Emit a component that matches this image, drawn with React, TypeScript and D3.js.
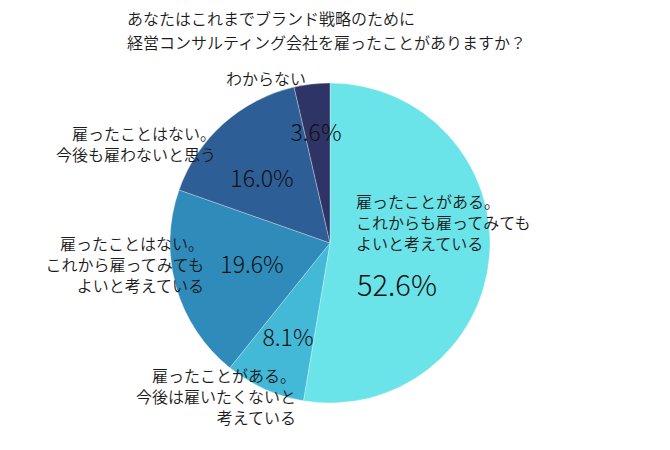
import React from "react";
import * as d3 from "d3";

// survey answers, clockwise from 12 o'clock
const categories = [
  "雇ったことがある。\nこれからも雇ってみても\nよいと考えている",
  "雇ったことがある。\n今後は雇いたくないと\n考えている",
  "雇ったことはない。\nこれから雇ってみても\nよいと考えている",
  "雇ったことはない。\n今後も雇わないと思う",
  "わからない",
];
const shares = [52.6, 8.1, 19.6, 16.0, 3.6];
const colors = ["#6ae4e8", "#44b8d7", "#2e8bba", "#2e5e96", "#2f3467"];

const titleLines = [
  "あなたはこれまでブランド戦略のために",
  "経営コンサルティング会社を雇ったことがありますか？",
];

// label layout (relative to pie centre)
const pctPos = [
  [67, 40],
  [-42, 93],
  [-78, 20],
  [-68, -66],
  [-14, -112],
];
const pctSize = [29, 23, 23, 23, 23];
const catPos: [number, number, string][] = [
  [26, -42, "start"],
  [-34, 132, "end"],
  [-126, 0, "end"],
  [-114, -110, "end"],
  [-24, -165, "end"],
];

const W = 670;
const H = 450;
const cx = 330;
const cy = 243;
const R = 160;
const font = "'Noto Sans CJK JP', 'Noto Sans', sans-serif";

export default function App() {
  const pie = d3
    .pie<number>()
    .sort(null)
    .value((d) => d);
  const arcs = pie(shares);
  const arc = d3.arc<d3.PieArcDatum<number>>().innerRadius(0).outerRadius(R);
  const lh = 21;

  return (
    <svg
      width={W}
      height={H}
      style={{ position: "absolute", left: 0, top: 0, background: "#fff" }}
      fontFamily={font}
    >
      {titleLines.map((t, i) => (
        <text key={i} x={127} y={18 + i * 24} fontSize={16} fontWeight={350} dominantBaseline="central" fill="#1a1a1a">
          {t}
        </text>
      ))}
      <g transform={`translate(${cx},${cy})`}>
        {arcs.map((a, i) => (
          <path key={i} d={arc(a) || ""} fill={colors[i]} stroke="#ffffff" strokeOpacity={0.5} strokeWidth={0.6} />
        ))}
        {arcs.map((a, i) => (
          <text
            key={"p" + i}
            x={pctPos[i][0]}
            y={pctPos[i][1]}
            fontSize={pctSize[i]}
            fontWeight={300}
            textAnchor="middle"
            dominantBaseline="central"
            fill="#111"
          >
            {shares[i].toFixed(1)}%
          </text>
        ))}
        {categories.map((c, i) => {
          const lines = c.split("\n");
          const [x, y, anchor] = catPos[i];
          return (
            <g key={"c" + i}>
              {lines.map((l, j) => (
                <text
                  key={j}
                  x={x}
                  y={y + j * lh}
                  fontSize={16}
                  fontWeight={350}
                  textAnchor={anchor as any}
                  dominantBaseline="central"
                  fill="#1a1a1a"
                >
                  {l}
                </text>
              ))}
            </g>
          );
        })}
      </g>
    </svg>
  );
}
